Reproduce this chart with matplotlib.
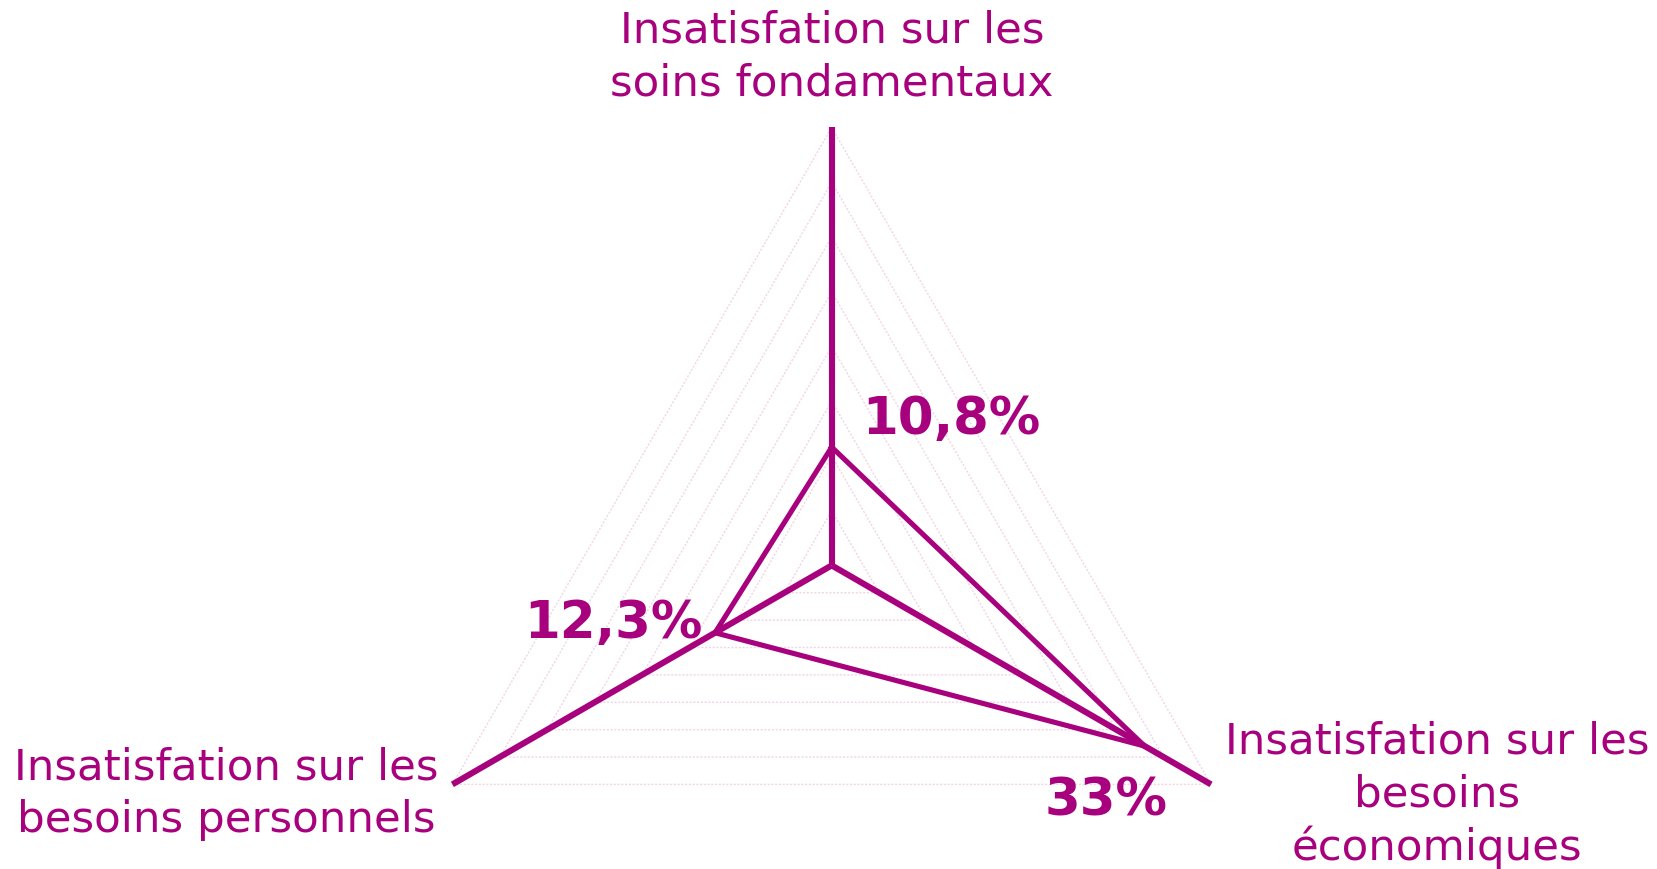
import numpy as np
import matplotlib
matplotlib.use("Agg")
import matplotlib.pyplot as plt

# ---- data ----
categories = ["Insatisfation sur les\nsoins fondamentaux",
              "Insatisfation sur les\nbesoins\néconomiques",
              "Insatisfation sur les\nbesoins personnels"]
values = [10.8, 33.0, 12.3]
value_labels = ["10,8%", "33%", "12,3%"]
r_max = 40
grid_levels = [5, 10, 15, 20, 25, 30, 35, 40]

MAG = "#A8017E"
GRID = "#F0D5E7"

W, H = 1657, 869
fig = plt.figure(figsize=(W / 100, H / 100), dpi=100)
ax = fig.add_axes([0, 0, 1, 1])
ax.set_axis_off()

# pixel mapping: center at (831.7, 565.4) from top, 40% -> 438 px
cx, cy = 831.7, 565.4
scale = 438.0 / r_max
ax.set_xlim(-cx / scale, (W - cx) / scale)
ax.set_ylim(-(H - cy) / scale, cy / scale)

n = len(categories)
angles = np.pi / 2 - 2 * np.pi * np.arange(n) / n  # top, bottom-right, bottom-left

def xy(r, a):
    return r * np.cos(a), r * np.sin(a)

# grid triangles
for lv in grid_levels:
    xs, ys = xy(np.array([lv] * (n + 1)), np.append(angles, angles[0]))
    ax.plot(xs, ys, color=GRID, lw=1.0, ls=(0, (1.5, 1.2)), zorder=1)

# axis lines
for a in angles:
    x1, y1 = xy(r_max, a)
    ax.plot([0, x1], [0, y1], color=MAG, lw=4.4, solid_capstyle="butt", zorder=3)

# data polygon
vx, vy = xy(np.array(values + [values[0]]), np.append(angles, angles[0]))
ax.plot(vx, vy, color=MAG, lw=3.7, solid_joinstyle="miter", zorder=4)

def px(x, y):
    # pixel (from top-left) to data
    return (x - cx) / scale, (cy - y) / scale

# category labels
cat_pos = [(832, 57), (1437, 795), (226, 794)]
for lab, (x, y) in zip(categories, cat_pos):
    dx, dy = px(x, y)
    ax.text(dx, dy, lab, ha="center", va="center", fontsize=31.3,
            color=MAG, linespacing=1.31, family="DejaVu Sans")

# value labels
val_pos = [(951, 420), (1106, 801), (613, 624)]
for lab, (x, y) in zip(value_labels, val_pos):
    dx, dy = px(x, y)
    ax.text(dx, dy, lab, ha="center", va="center", fontsize=37,
            fontweight="bold", color=MAG, family="DejaVu Sans")

fig.savefig("out.png", dpi=100)
